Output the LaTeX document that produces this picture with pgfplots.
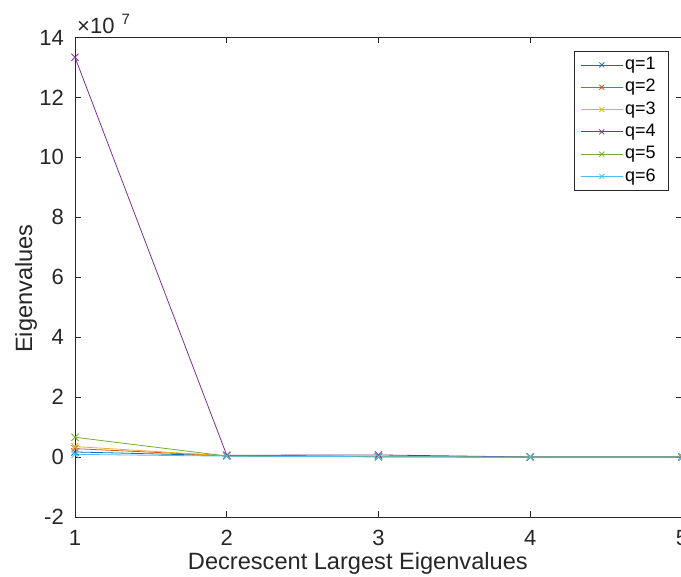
\documentclass[border=0pt]{standalone}
\usepackage{pgfplots}
\pgfplotsset{compat=1.18}
\usepackage{fontspec}
\setmainfont{Liberation Sans}
\definecolor{c1}{rgb}{0,0.447,0.741}
\definecolor{c2}{rgb}{0.85,0.325,0.098}
\definecolor{c3}{rgb}{0.929,0.694,0.125}
\definecolor{c4}{rgb}{0.494,0.184,0.556}
\definecolor{c5}{rgb}{0.466,0.674,0.188}
\definecolor{c6}{rgb}{0.301,0.745,0.933}
\definecolor{axgray}{rgb}{0.15,0.15,0.15}
\begin{document}
\begin{tikzpicture}
\begin{axis}[
  at={(0,0)}, anchor=south west,
  scale only axis, width=607pt, height=479.5pt,
  xmin=1, xmax=5, ymin=-2e7, ymax=1.4e8,
  xtick={1,2,3,4,5},
  xticklabels={1,2,3,4,5},
  ytick={-2e7,0,2e7,4e7,6e7,8e7,1e8,1.2e8,1.4e8},
  yticklabels={-2,0,2,4,6,8,10,12,14},
  scaled y ticks=false,
  tick align=inside, major tick length=6pt,
  axis line style={color=axgray, line width=0.6pt},
  every tick/.style={axgray, line width=0.6pt},
  ticklabel style={font=\fontsize{22}{24}\selectfont, text=axgray},
  xticklabel style={anchor=base, yshift=-29pt, inner sep=0pt},
  yticklabel style={anchor=east, inner sep=0pt, xshift=-11pt},
  xlabel={Decrescent Largest Eigenvalues},
  ylabel={Eigenvalues},
  label style={font=\fontsize{23.6}{26}\selectfont, text=axgray},
  xlabel style={at={(axis description cs:0.466,-0.1105)}, anchor=base},
  ylabel style={at={(axis description cs:-0.0708,0.4765)}, anchor=base},
  clip=false,
  every axis plot/.append style={line width=0.8pt, mark=x, mark size=5pt, mark options={solid, line width=0.8pt}},
  legend style={at={(rel axis cs:0.9786,0.9718)}, anchor=north east,
    draw=axgray, line width=0.6pt, fill=white, inner xsep=6pt, inner ysep=2.5pt,
    font=\fontsize{18}{20}\selectfont, text=black,
    nodes={inner xsep=2pt, inner ysep=2.8pt, text height=12.9pt, text depth=3.8pt}},
  legend cell align=left,
  legend image code/.code={\draw[mark repeat=2, mark phase=2, mark size=3.5pt] plot coordinates {(0pt,0pt) (21pt,0pt) (42pt,0pt)};},
]
\addplot[color=c1] coordinates {(1,1.7e6) (2,4.5e5) (3,1.2e5) (4,2e4) (5,5e3)};
\addlegendentry{q=1\hspace*{5pt}}
\addplot[color=c2] coordinates {(1,2.8e6) (2,4.5e5) (3,1.5e5) (4,2e4) (5,5e3)};
\addlegendentry{q=2\hspace*{5pt}}
\addplot[color=c3] coordinates {(1,3.5e6) (2,4e5) (3,1.5e5) (4,2e4) (5,5e3)};
\addlegendentry{q=3\hspace*{5pt}}
\addplot[color=c4] coordinates {(1,1.334e8) (2,6e5) (3,7e5) (4,2e4) (5,5e3)};
\addlegendentry{q=4\hspace*{5pt}}
\addplot[color=c5] coordinates {(1,6.6e6) (2,3.5e5) (3,1.2e5) (4,2e4) (5,5e3)};
\addlegendentry{q=5\hspace*{5pt}}
\addplot[color=c6] coordinates {(1,9e5) (2,3e5) (3,1e5) (4,1e4) (5,5e3)};
\addlegendentry{q=6\hspace*{5pt}}
\node[anchor=base west, inner sep=0pt, font=\fontsize{22}{24}\selectfont, text=axgray]
  at (rel axis cs:0,1) [xshift=2pt, yshift=4pt] {×10\hspace{7pt}\raisebox{9pt}{\fontsize{15}{15}\selectfont 7}};
\end{axis}
\pgfresetboundingbox
\useasboundingbox (-75pt,-60pt) rectangle (606pt,517pt);
\end{tikzpicture}
\end{document}
